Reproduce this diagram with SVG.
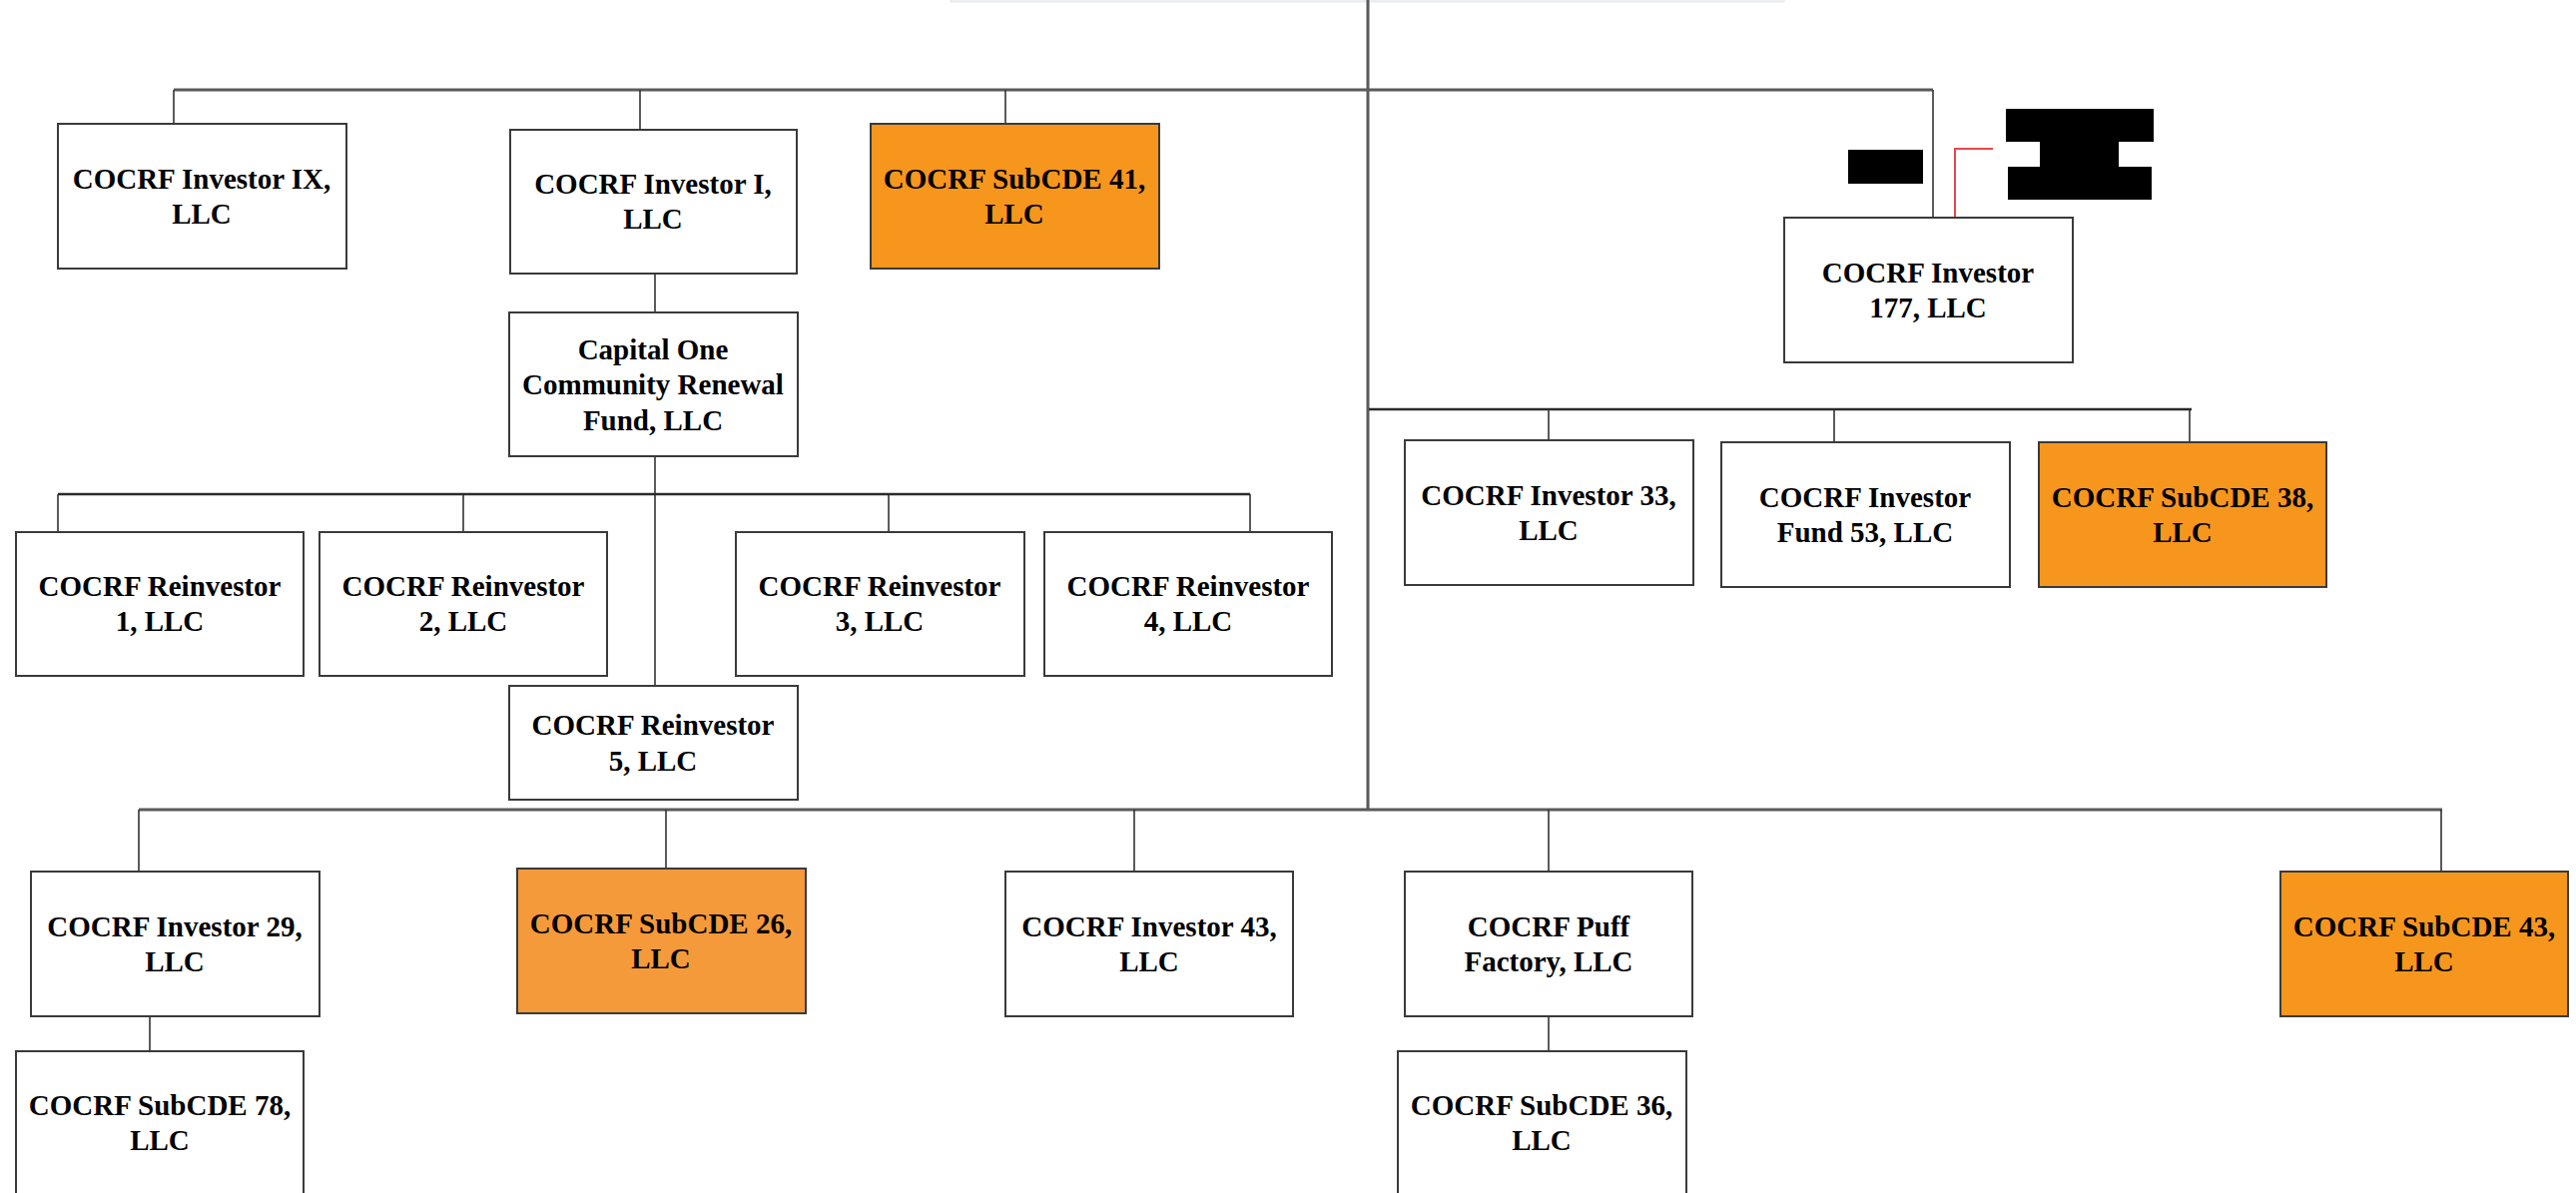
<svg xmlns="http://www.w3.org/2000/svg" width="2580" height="1195" viewBox="0 0 2580 1195">
<style>
.box{fill:#ffffff;stroke:#3a3a3a;stroke-width:2}
.org{fill:#F7961D;stroke:#3a3a3a;stroke-width:2}
.org2{fill:#F49A3A;stroke:#3a3a3a;stroke-width:2}
.main{stroke:#5a5a5a;stroke-width:3;fill:none}
.bus{stroke:#2a2a2a;stroke-width:2.5;fill:none}
.con{stroke:#333333;stroke-width:1.6;fill:none}
text{font-family:"Liberation Serif","Times New Roman",serif;font-weight:bold;font-size:29px;fill:#000;text-anchor:middle}
</style>
<rect x="0" y="0" width="2580" height="1195" fill="#ffffff"/>
<rect x="952" y="-2" width="835" height="4" fill="#eef1f4" stroke="#e2e6ea" stroke-width="1"/>
<g id="connectors">
<line class="main" x1="1370" y1="0" x2="1370" y2="811"/>
<line class="main" x1="174" y1="90" x2="1936" y2="90"/>
<line class="con" x1="1936" y1="90" x2="1936" y2="218"/>
<line class="con" x1="174" y1="90" x2="174" y2="124"/>
<line class="con" x1="641" y1="90" x2="641" y2="130"/>
<line class="con" x1="1007" y1="90" x2="1007" y2="124"/>
<line class="con" x1="656" y1="274" x2="656" y2="313"/>
<line class="con" x1="656" y1="457" x2="656" y2="687"/>
<line class="bus" x1="58" y1="495" x2="1252" y2="495"/>
<line class="con" x1="58" y1="495" x2="58" y2="533"/>
<line class="con" x1="464" y1="495" x2="464" y2="533"/>
<line class="con" x1="890" y1="495" x2="890" y2="533"/>
<line class="con" x1="1252" y1="495" x2="1252" y2="533"/>
<line class="bus" x1="1371" y1="410" x2="2195" y2="410"/>
<line class="con" x1="1551" y1="410" x2="1551" y2="441"/>
<line class="con" x1="1837" y1="410" x2="1837" y2="443"/>
<line class="con" x1="2193" y1="410" x2="2193" y2="443"/>
<line class="main" x1="139" y1="811" x2="2446" y2="811"/>
<line class="con" x1="139" y1="811" x2="139" y2="873"/>
<line class="con" x1="667" y1="811" x2="667" y2="870"/>
<line class="con" x1="1136" y1="811" x2="1136" y2="873"/>
<line class="con" x1="1551" y1="811" x2="1551" y2="873"/>
<line class="con" x1="2445" y1="811" x2="2445" y2="873"/>
<line class="con" x1="150" y1="1018" x2="150" y2="1053"/>
<line class="con" x1="1551" y1="1018" x2="1551" y2="1053"/>
<polyline points="1958,218 1958,149 1996,149" fill="none" stroke="#e8464a" stroke-width="2"/>
</g>
<g id="redactions">
<rect x="1851" y="150" width="75" height="34" fill="#000"/>
<path d="M2009 109 H2157 V142 H2122 V167 H2155 V200 H2011 V167 H2043 V142 H2009 Z" fill="#000"/>
</g>
<g id="n_investor_ix"><rect class="box" x="58" y="124" width="289" height="145"/><text x="202" y="189">COCRF Investor IX,</text><text x="202" y="224">LLC</text></g>
<g id="n_investor_i"><rect class="box" x="511" y="130" width="287" height="144"/><text x="654" y="194">COCRF Investor I,</text><text x="654" y="229">LLC</text></g>
<g id="n_subcde_41"><rect class="org" x="872" y="124" width="289" height="145"/><text x="1016" y="189">COCRF SubCDE 41,</text><text x="1016" y="224">LLC</text></g>
<g id="n_investor_177"><rect class="box" x="1787" y="218" width="289" height="145"/><text x="1931" y="283">COCRF Investor</text><text x="1931" y="318">177, LLC</text></g>
<g id="n_capital_one"><rect class="box" x="510" y="313" width="289" height="144"/><text x="654" y="360">Capital One</text><text x="654" y="395">Community Renewal</text><text x="654" y="431">Fund, LLC</text></g>
<g id="n_reinvestor_1"><rect class="box" x="16" y="533" width="288" height="144"/><text x="160" y="597">COCRF Reinvestor</text><text x="160" y="632">1, LLC</text></g>
<g id="n_reinvestor_2"><rect class="box" x="320" y="533" width="288" height="144"/><text x="464" y="597">COCRF Reinvestor</text><text x="464" y="632">2, LLC</text></g>
<g id="n_reinvestor_3"><rect class="box" x="737" y="533" width="289" height="144"/><text x="881" y="597">COCRF Reinvestor</text><text x="881" y="632">3, LLC</text></g>
<g id="n_reinvestor_4"><rect class="box" x="1046" y="533" width="288" height="144"/><text x="1190" y="597">COCRF Reinvestor</text><text x="1190" y="632">4, LLC</text></g>
<g id="n_reinvestor_5"><rect class="box" x="510" y="687" width="289" height="114"/><text x="654" y="736">COCRF Reinvestor</text><text x="654" y="772">5, LLC</text></g>
<g id="n_investor_33"><rect class="box" x="1407" y="441" width="289" height="145"/><text x="1551" y="506">COCRF Investor 33,</text><text x="1551" y="541">LLC</text></g>
<g id="n_investor_fund_53"><rect class="box" x="1724" y="443" width="289" height="145"/><text x="1868" y="508">COCRF Investor</text><text x="1868" y="543">Fund 53, LLC</text></g>
<g id="n_subcde_38"><rect class="org" x="2042" y="443" width="288" height="145"/><text x="2186" y="508">COCRF SubCDE 38,</text><text x="2186" y="543">LLC</text></g>
<g id="n_investor_29"><rect class="box" x="31" y="873" width="289" height="145"/><text x="175" y="938">COCRF Investor 29,</text><text x="175" y="973">LLC</text></g>
<g id="n_subcde_26"><rect class="org2" x="518" y="870" width="289" height="145"/><text x="662" y="935">COCRF SubCDE 26,</text><text x="662" y="970">LLC</text></g>
<g id="n_investor_43"><rect class="box" x="1007" y="873" width="288" height="145"/><text x="1151" y="938">COCRF Investor 43,</text><text x="1151" y="973">LLC</text></g>
<g id="n_puff_factory"><rect class="box" x="1407" y="873" width="288" height="145"/><text x="1551" y="938">COCRF Puff</text><text x="1551" y="973">Factory, LLC</text></g>
<g id="n_subcde_43"><rect class="org" x="2284" y="873" width="288" height="145"/><text x="2428" y="938">COCRF SubCDE 43,</text><text x="2428" y="973">LLC</text></g>
<g id="n_subcde_78"><rect class="box" x="16" y="1053" width="288" height="147"/><text x="160" y="1117">COCRF SubCDE 78,</text><text x="160" y="1152">LLC</text></g>
<g id="n_subcde_36"><rect class="box" x="1400" y="1053" width="289" height="147"/><text x="1544" y="1117">COCRF SubCDE 36,</text><text x="1544" y="1152">LLC</text></g>
</svg>
